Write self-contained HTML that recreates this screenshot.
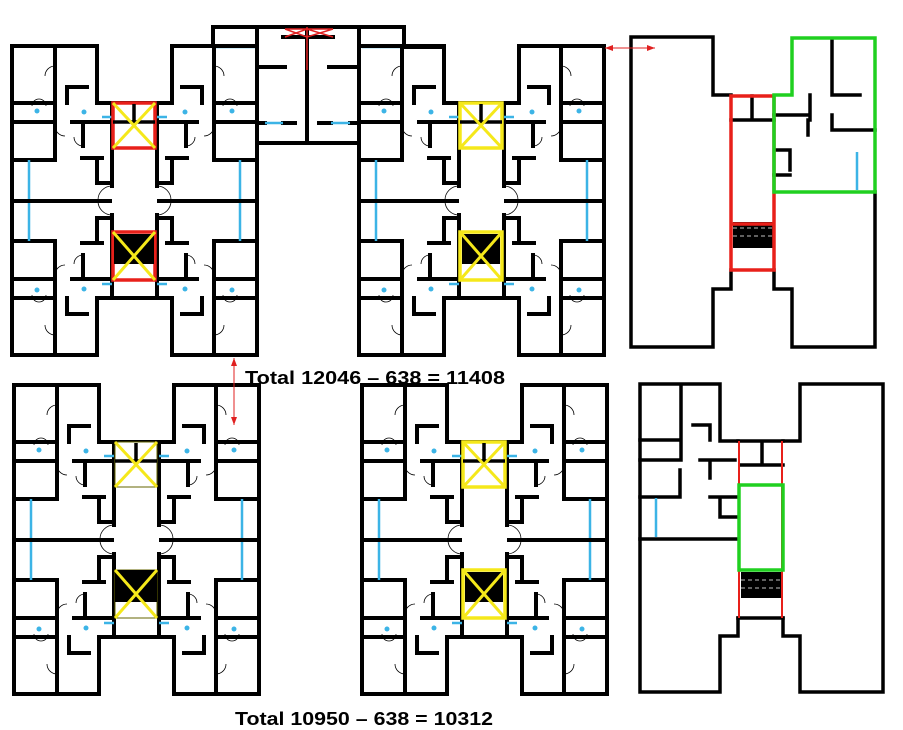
<!DOCTYPE html>
<html><head><meta charset="utf-8"><style>
html,body{margin:0;padding:0;background:#fff;}
svg{display:block;}
</style></head><body>
<svg width="903" height="730" viewBox="0 0 903 730" xmlns="http://www.w3.org/2000/svg">
<defs>
<g id="q">
  <path d="M0,0H85V57H123 M0,0V156 M100,57V140 M43,1V114 M0,57H43 M0,76H43 M0,114H43 M60,76H100 M71,76V100 M70,112H90 M85,112V137H100 M55,41H75 M55,41V57" fill="none" stroke="#000" stroke-width="4" stroke-linecap="square"/>
  <path d="M17,114V156" stroke="#3cb4e6" stroke-width="2.5"/>
  <path d="M100,140 a14,14 0 0 0 -14,14 M43,20 a10,10 0 0 0 -10,10 M43,80 a10,10 0 0 0 10,10 M71,100 a9,9 0 0 1 -9,-9 M20,60 a7,7 0 0 1 14,0" fill="none" stroke="#000" stroke-width="0.8"/>
  <circle cx="25" cy="65" r="2.5" fill="#3cb4e6"/>
  <circle cx="72" cy="66" r="2.5" fill="#3cb4e6"/>
  <path d="M90,71H100" stroke="#3cb4e6" stroke-width="2.5"/>
</g>
<g id="blk">
  <use href="#q"/>
  <use href="#q" transform="translate(245,0) scale(-1,1)"/>
  <use href="#q" transform="translate(0,309) scale(1,-1)"/>
  <use href="#q" transform="translate(245,309) scale(-1,-1)"/>
  <path d="M0,155H100 M145,155H245" stroke="#000" stroke-width="4"/>
</g>
</defs>

<g fill="none" stroke="#000" stroke-width="4" stroke-linecap="square">
  <path d="M173,46H213V27H404V47H443"/>
  <path d="M257,27V143H359V27 M307,27V143 M257,67H285 M329,67H359 M257,123H265 M283,123H295 M319,123H331 M350,123H359 M283,37H333"/>
</g>
<path d="M213,47H255 M362,47H400 M265,123H283 M331,123H350" stroke="#3cb4e6" stroke-width="2.5"/>
<path d="M285,29H333 M285,29L307,37L333,29 M285,37L307,29L333,37 M307,27V70" stroke="#e02020" stroke-width="1.5" fill="none"/>

<use href="#blk" transform="translate(12,46)"/>
<use href="#blk" transform="translate(359,46)"/>
<use href="#blk" transform="translate(14,385)"/>
<use href="#blk" transform="translate(362,385)"/>

<g transform="translate(12,46)">
  <rect x="101" y="57" width="42" height="45" fill="#fff" stroke="#e8201a" stroke-width="3.5"/>
  <path d="M122,58V78 M101,76H143" stroke="#000" stroke-width="3.5"/>
  <path d="M101,57L143,102M143,57L101,102" stroke="#f5e81a" stroke-width="3"/>
  <rect x="101" y="186" width="42" height="48" fill="#fff" stroke="#e8201a" stroke-width="3.5"/>
  <rect x="102" y="188" width="40" height="30" fill="#000"/>
  <path d="M101,186L143,234M143,186L101,234" stroke="#f5e81a" stroke-width="3"/>
</g>
<g transform="translate(359,46)">
  <rect x="101" y="57" width="42" height="45" fill="#fff" stroke="#f5e81a" stroke-width="3.5"/>
  <path d="M122,58V78 M101,76H143" stroke="#000" stroke-width="3.5"/>
  <path d="M101,57L143,102M143,57L101,102" stroke="#f5e81a" stroke-width="3"/>
  <rect x="101" y="186" width="42" height="48" fill="#fff" stroke="#f5e81a" stroke-width="3.5"/>
  <rect x="103" y="188" width="38" height="30" fill="#000"/>
  <path d="M101,186L143,234M143,186L101,234" stroke="#f5e81a" stroke-width="3"/>
</g>
<g transform="translate(14,385)">
  <rect x="101" y="57" width="42" height="45" fill="#fff" stroke="#666600" stroke-width="1"/>
  <path d="M122,58V78 M101,76H143" stroke="#000" stroke-width="3.5"/>
  <path d="M101,57L143,102M143,57L101,102" stroke="#f5e81a" stroke-width="3"/>
  <rect x="101" y="185" width="42" height="48" fill="#fff" stroke="#666600" stroke-width="1"/>
  <rect x="101" y="185" width="42" height="32" fill="#000"/>
  <path d="M101,185L143,233M143,185L101,233" stroke="#f5e81a" stroke-width="3"/>
</g>
<g transform="translate(362,385)">
  <rect x="101" y="57" width="42" height="45" fill="#fff" stroke="#f5e81a" stroke-width="3.5"/>
  <path d="M122,58V78 M101,76H143" stroke="#000" stroke-width="3.5"/>
  <path d="M101,57L143,102M143,57L101,102" stroke="#f5e81a" stroke-width="3"/>
  <rect x="101" y="185" width="42" height="48" fill="#fff" stroke="#f5e81a" stroke-width="3.5"/>
  <rect x="103" y="187" width="38" height="30" fill="#000"/>
  <path d="M101,185L143,233M143,185L101,233" stroke="#f5e81a" stroke-width="3"/>
</g>

<g fill="none" stroke="#000" stroke-width="3.5" stroke-linecap="square">
  <path d="M731,95H713V37H631V347H713V289H731V270 M774,270V289H792V347H875V192"/>
  <path d="M832,40V95 M832,115V130H875 M774,115H810 M810,95V120 M808,120V135 M775,150H790V170 M774,175H790 M832,95H860"/>
  <path d="M731,120H774 M752,96V120"/>
</g>
<rect x="733" y="222" width="40" height="26" fill="#000"/>
<path d="M733,228H773 M733,236H773" stroke="#fff" stroke-width="0.7" stroke-dasharray="4,3"/>
<rect x="731" y="96" width="43" height="174" fill="none" stroke="#e8201a" stroke-width="3.5"/>
<path d="M731,224H774" stroke="#e8201a" stroke-width="3.5"/>
<path d="M792,38H875V192H774V95H792Z" fill="none" stroke="#20d020" stroke-width="3.5"/>
<path d="M857,152V190" stroke="#3cb4e6" stroke-width="2.5"/>
<path d="M605,48H655" stroke="#e02020" stroke-width="1"/>
<path d="M605,48l8,-3v6z M655,48l-8,-3v6z" fill="#e02020"/>

<g fill="none" stroke="#000" stroke-width="3.5" stroke-linecap="square">
  <path d="M738,441H720V384H640V692H720V636H738V618 M783,618V636H800V692H883V384H800V441H783"/>
  <path d="M738,441H783 M762,441V462 M740,465H783 M738,618H783"/>
  <path d="M640,539H738 M681,386V460 M640,440H681 M640,460H681 M680,470V497H640 M693,425H710V440 M700,460H735 M710,460V478 M710,497H738 M720,497V517H738"/>
</g>
<rect x="741" y="572" width="40" height="26" fill="#000"/>
<path d="M741,580H781 M741,588H781" stroke="#fff" stroke-width="0.7" stroke-dasharray="4,3"/>
<path d="M739,441V618 M782,441V618" stroke="#e8201a" stroke-width="2"/>
<rect x="739" y="485" width="44" height="85" fill="none" stroke="#20d020" stroke-width="3.5"/>
<path d="M656,498V537" stroke="#3cb4e6" stroke-width="2.5"/>

<path d="M234,358V425" stroke="#e02020" stroke-width="1"/>
<path d="M234,358l-3,8h6z M234,425l-3,-8h6z" fill="#e02020"/>

<text x="245" y="384" font-family="Liberation Sans, sans-serif" font-weight="bold" font-size="18" textLength="260" lengthAdjust="spacingAndGlyphs">Total 12046 – 638 = 11408</text>
<text x="235" y="725" font-family="Liberation Sans, sans-serif" font-weight="bold" font-size="18" textLength="258" lengthAdjust="spacingAndGlyphs">Total 10950 – 638 = 10312</text>
</svg>
</body></html>
